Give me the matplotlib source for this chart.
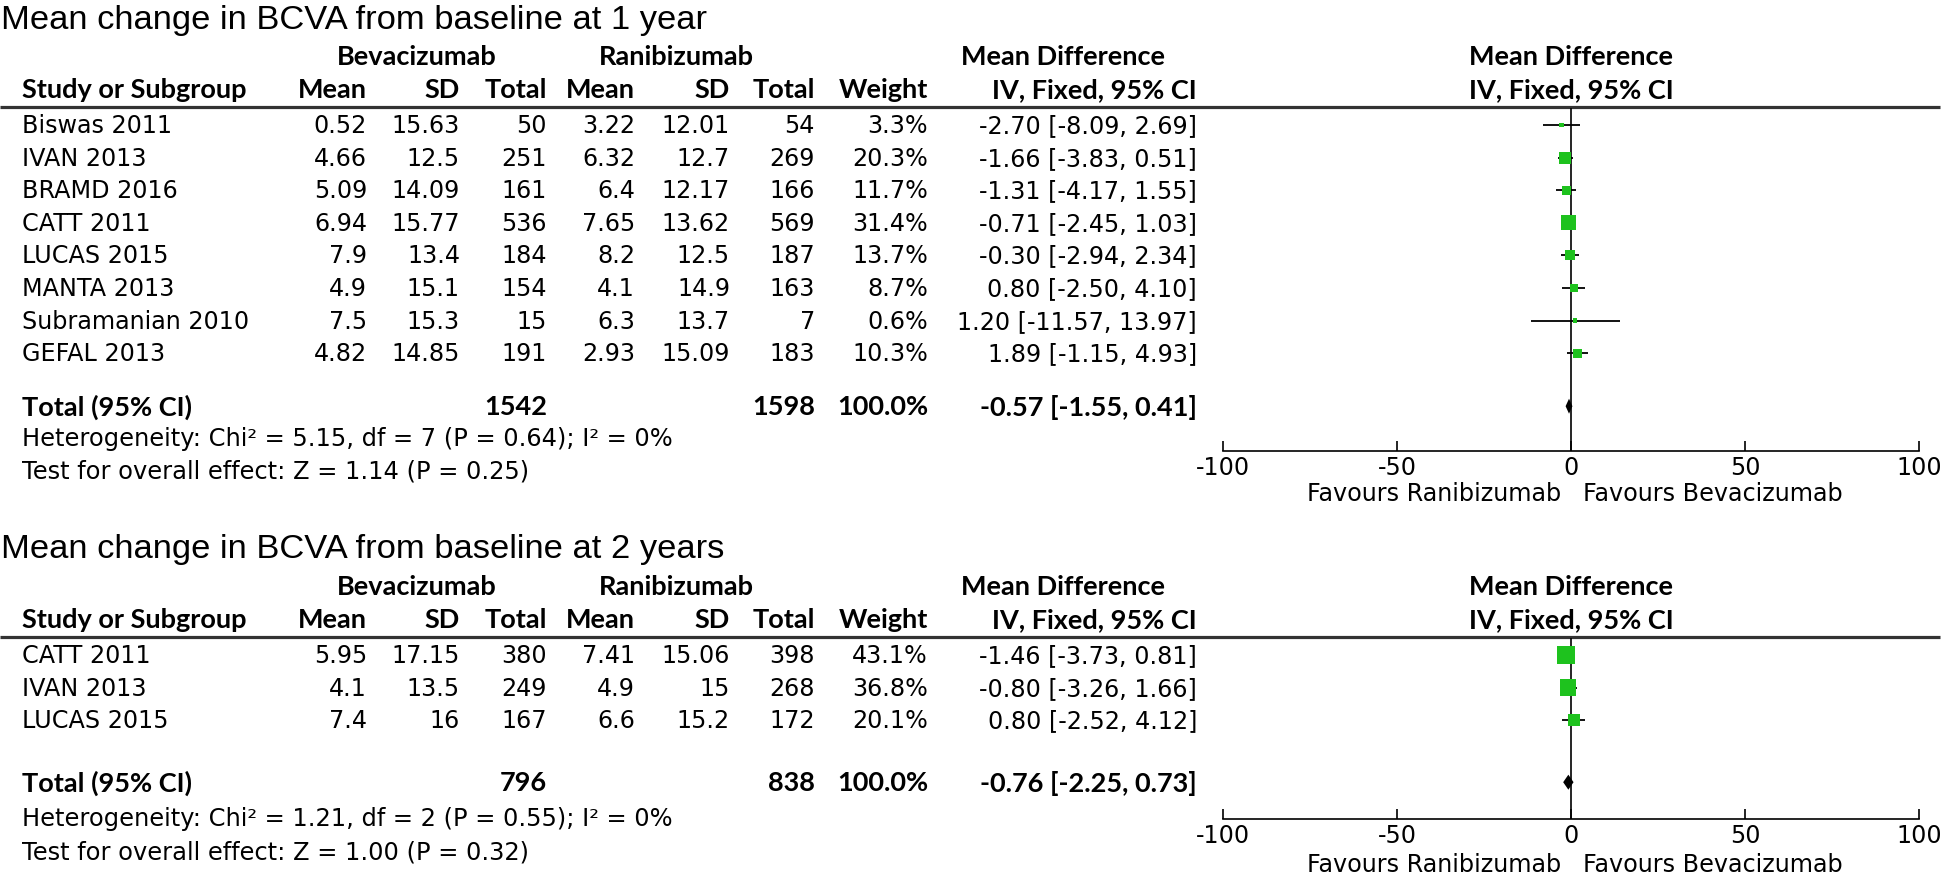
import matplotlib
matplotlib.use('Agg')
import matplotlib.pyplot as plt
import numpy as np

plt.rcParams['axes.unicode_minus'] = False

W, H = 1946, 879

# ---- 1 year ----
studies_1y = ['Biswas 2011', 'IVAN 2013', 'BRAMD 2016', 'CATT 2011', 'LUCAS 2015',
              'MANTA 2013', 'Subramanian 2010', 'GEFAL 2013']
bev_mean_1y = ['0.52', '4.66', '5.09', '6.94', '7.9', '4.9', '7.5', '4.82']
bev_sd_1y = ['15.63', '12.5', '14.09', '15.77', '13.4', '15.1', '15.3', '14.85']
bev_n_1y = [50, 251, 161, 536, 184, 154, 15, 191]
ran_mean_1y = ['3.22', '6.32', '6.4', '7.65', '8.2', '4.1', '6.3', '2.93']
ran_sd_1y = ['12.01', '12.7', '12.17', '13.62', '12.5', '14.9', '13.7', '15.09']
ran_n_1y = [54, 269, 166, 569, 187, 163, 7, 183]
weight_1y = [3.3, 20.3, 11.7, 31.4, 13.7, 8.7, 0.6, 10.3]
md_1y = [-2.70, -1.66, -1.31, -0.71, -0.30, 0.80, 1.20, 1.89]
lo_1y = [-8.09, -3.83, -4.17, -2.45, -2.94, -2.50, -11.57, -1.15]
hi_1y = [2.69, 0.51, 1.55, 1.03, 2.34, 4.10, 13.97, 4.93]
total_1y = (-0.57, -1.55, 0.41)
het_1y = 'Heterogeneity: Chi² = 5.15, df = 7 (P = 0.64); I² = 0%'
test_1y = 'Test for overall effect: Z = 1.14 (P = 0.25)'

# ---- 2 years ----
studies_2y = ['CATT 2011', 'IVAN 2013', 'LUCAS 2015']
bev_mean_2y = ['5.95', '4.1', '7.4']
bev_sd_2y = ['17.15', '13.5', '16']
bev_n_2y = [380, 249, 167]
ran_mean_2y = ['7.41', '4.9', '6.6']
ran_sd_2y = ['15.06', '15', '15.2']
ran_n_2y = [398, 268, 172]
weight_2y = [43.1, 36.8, 20.1]
md_2y = [-1.46, -0.80, 0.80]
lo_2y = [-3.73, -3.26, -2.52]
hi_2y = [0.81, 1.66, 4.12]
total_2y = (-0.76, -2.25, 0.73)
het_2y = 'Heterogeneity: Chi² = 1.21, df = 2 (P = 0.55); I² = 0%'
test_2y = 'Test for overall effect: Z = 1.00 (P = 0.32)'

ticks = [-100, -50, 0, 50, 100]

REG = dict(family='DejaVu Sans', fontsize=17.2)
FOOT = dict(family='DejaVu Sans', fontsize=17.4)
BOLD = dict(family='Lato', fontsize=19.5, fontweight='bold')
GREEN = '#1ec21e'
ROW = 32.6

fig = plt.figure(figsize=(W / 100, H / 100), dpi=100)
bg = fig.add_axes([0, 0, 1, 1])
bg.set_xlim(0, W)
bg.set_ylim(H, 0)
bg.axis('off')

# column right edges (px)
cols = [367, 460, 547, 635, 730, 815, 928, 1197]
fx0, fx1 = 1223, 1919  # forest plot -100 .. 100


def draw_section(top, gaps, title, studies, bm, bs, bn, rm, rs, rn, wt, md, lo, hi, tot, het, test):
    # gaps: total row gap after last study, het offset, test offset, axis offset, favours offset
    g_tot, g_het, g_test, g_axis, g_fav = gaps
    bg.text(1, top, title, family='Liberation Sans', fontsize=24.8, va='center', ha='left')
    h1, h2, line = top + 37, top + 70, top + 88
    row0 = top + 106
    bg.text(417, h1, 'Bevacizumab', ha='center', va='center', **BOLD)
    bg.text(676, h1, 'Ranibizumab', ha='center', va='center', **BOLD)
    bg.text(1063, h1, 'Mean Difference', ha='center', va='center', **BOLD)
    bg.text(1571, h1, 'Mean Difference', ha='center', va='center', **BOLD)
    bg.text(22, h2, 'Study or Subgroup', ha='left', va='center', **BOLD)
    for x, lab in zip(cols, ['Mean', 'SD', 'Total', 'Mean', 'SD', 'Total', 'Weight', 'IV, Fixed, 95% CI']):
        bg.text(x, h2, lab, ha='right', va='center', **BOLD)
    bg.text(1571, h2, 'IV, Fixed, 95% CI', ha='center', va='center', **BOLD)
    bg.plot([0, 1940], [line, line], color='#333333', lw=2.3, solid_capstyle='butt')

    n = len(studies)
    for i in range(n):
        y = row0 + i * ROW
        bg.text(22, y, studies[i], ha='left', va='center', **REG)
        vals = [bm[i], bs[i], str(bn[i]), rm[i], rs[i], str(rn[i]), f'{wt[i]:.1f}%',
                f'{md[i]:.2f} [{lo[i]:.2f}, {hi[i]:.2f}]']
        for x, v in zip(cols, vals):
            bg.text(x, y, v, ha='right', va='center', **REG)

    ytot = row0 + (n - 1) * ROW + g_tot
    bg.text(22, ytot, 'Total (95% CI)', ha='left', va='center', **BOLD)
    bg.text(cols[2], ytot, str(sum(bn)), ha='right', va='center', **BOLD)
    bg.text(cols[5], ytot, str(sum(rn)), ha='right', va='center', **BOLD)
    bg.text(cols[6], ytot, f'{sum(wt):.1f}%', ha='right', va='center', **BOLD)
    bg.text(cols[7], ytot, f'{tot[0]:.2f} [{tot[1]:.2f}, {tot[2]:.2f}]', ha='right', va='center', **BOLD)
    bg.text(22, ytot + g_het, het, ha='left', va='center', **FOOT)
    bg.text(22, ytot + g_test, test, ha='left', va='center', **FOOT)

    # forest panel
    axis_y = ytot + g_axis
    ftop = line + 1
    ax = fig.add_axes([fx0 / W, 1 - axis_y / H, (fx1 - fx0) / W, (axis_y - ftop) / H])
    ax.set_xlim(-100, 100)
    ax.set_ylim((axis_y - row0) / ROW, (ftop - row0) / ROW)
    ax.patch.set_alpha(0)
    for s in ['top', 'left', 'right']:
        ax.spines[s].set_visible(False)
    ax.spines['bottom'].set_linewidth(1.2)
    ax.set_yticks([])
    ax.set_xticks(ticks)
    ax.tick_params(axis='x', direction='in', length=7, width=1.2, pad=3, labelsize=17.2)
    for lab in ax.get_xticklabels():
        lab.set_family('DejaVu Sans')
    ax.axvline(0, color='black', lw=1.2)
    rows = np.arange(n)
    ax.hlines(rows, lo, hi, color='black', lw=1.3, zorder=2)
    side = np.maximum(2.7 * np.sqrt(np.array(wt)), 4.5) * 0.72
    ax.scatter(md, rows, marker='s', s=side ** 2, color=GREEN, linewidths=0, zorder=3)
    kt = (ytot - row0) / ROW
    dh = 0.23
    ax.fill([tot[1], tot[0], tot[2], tot[0]], [kt, kt - dh, kt, kt + dh],
            color='black', lw=0, zorder=3)

    bg.text(1561, ytot + g_fav, 'Favours Ranibizumab', ha='right', va='center', **REG)
    bg.text(1583, ytot + g_fav, 'Favours Bevacizumab', ha='left', va='center', **REG)


draw_section(20, (53, 32, 64, 45, 87),
             'Mean change in BCVA from baseline at 1 year', studies_1y, bev_mean_1y, bev_sd_1y,
             bev_n_1y, ran_mean_1y, ran_sd_1y, ran_n_1y, weight_1y, md_1y, lo_1y, hi_1y,
             total_1y, het_1y, test_1y)
draw_section(550, (62, 36, 69, 37, 82),
             'Mean change in BCVA from baseline at 2 years', studies_2y, bev_mean_2y, bev_sd_2y,
             bev_n_2y, ran_mean_2y, ran_sd_2y, ran_n_2y, weight_2y, md_2y, lo_2y, hi_2y,
             total_2y, het_2y, test_2y)

fig.savefig('out.png', dpi=100, facecolor='white')
